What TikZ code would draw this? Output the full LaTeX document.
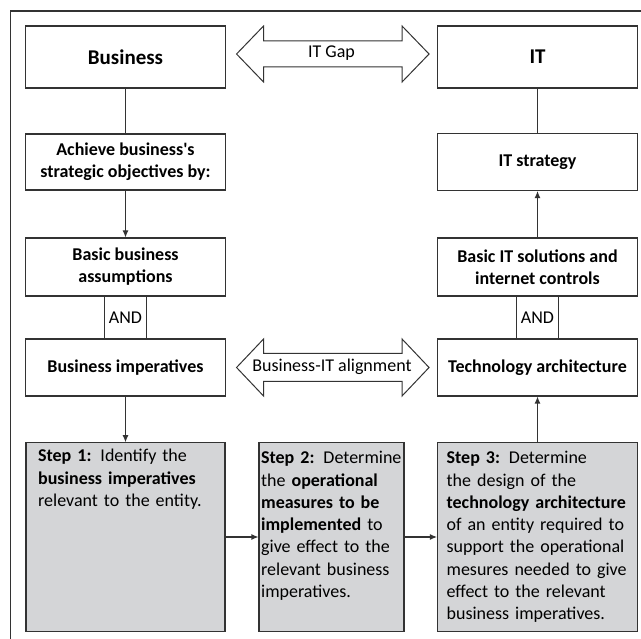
\documentclass[tikz,border=0pt]{standalone}
\usepackage{fontspec}
\setmainfont{Carlito}[Ligatures=TeXOff]
\usepackage{tikz}
\usetikzlibrary{arrows.meta}
\definecolor{linegray}{RGB}{51,51,51}
\definecolor{stepgray}{RGB}{212,213,215}

\begin{document}
\begin{tikzpicture}[x=1pt,y=-1pt]
				\tikzset{box/.style={draw=linegray,line width=1.1pt,minimum width=200pt,inner sep=2pt,align=center,font=\fontsize{18}{22}\selectfont\bfseries}}
				\tikzset{titlebox/.style={box,minimum height=62pt,font=\fontsize{21}{25}\selectfont\bfseries}}
				\tikzset{andbox/.style={draw=linegray,line width=1.1pt,minimum width=42pt,minimum height=43pt,inner sep=0pt,font=\fontsize{18}{22}\selectfont}}
				\tikzset{stepbox/.style={draw=linegray,line width=1.1pt,fill=stepgray,minimum height=188.5pt,inner sep=0pt}}
				\tikzset{steptext/.style={anchor=north west,inner sep=0pt,text width=196pt,align=left,font=\fontsize{18}{22.3}\selectfont}}
				\tikzset{fatarrow/.style={draw=linegray,line width=1pt,fill=white}}
				\tikzset{plainline/.style={draw=linegray,line width=1.1pt}}
				\tikzset{arrowline/.style={plainline,-{Latex[length=7pt,width=6pt]}}}
				\useasboundingbox (0,0) rectangle (641,639);
				\draw[linegray,line width=1.1pt] (10.5,660) -- (10.5,11) -- (660,11);
				% business side
				\node[titlebox] (bus) at (125.5,57) {Business};
				\node[box,minimum height=56pt] (ach) at (125.5,162) {Achieve business's\\strategic objectives by:};
				\node[box,minimum height=58pt] (basic) at (125.5,267) {Basic business\\assumptions};
				\node[andbox] (andbus) at (125.5,317.5) {AND};
				\node[box,minimum height=57pt] (imp) at (125.5,367.5) {Business imperatives};
				% IT side
				\node[titlebox] (it) at (537.5,57) {IT};
				\node[box,minimum height=57pt] (itstr) at (537.5,162) {IT strategy};
				\node[box,minimum height=58pt] (basicit) at (537.5,267) {Basic IT solutions and\\internet controls};
				\node[andbox] (andit) at (537.5,317.5) {AND};
				\node[box,minimum height=57pt] (tech) at (537.5,367.5) {Technology architecture};
				% steps
				\node[stepbox,minimum width=199pt] (step1) at (125.5,537) {};
				\node[stepbox,minimum width=145pt] (step2) at (331.5,537) {};
				\node[stepbox,minimum width=200pt] (step3) at (537.5,537) {};
				\node[steptext] (text1) at ([shift={(12.5,7)}]step1.north west) {\textbf{Step 1:} Identify the\\\textbf{business imperatives}\\relevant to the entity.};
				\node[steptext] (text2) at ([shift={(2.5,9)}]step2.north west) {\textbf{Step 2:} Determine\\the \textbf{operational}\\\textbf{measures to be}\\\textbf{implemented} to\\give effect to the\\relevant business\\imperatives.};
				\node[steptext] (text3) at ([shift={(9.5,9)}]step3.north west) {\textbf{Step 3:} Determine\\the design of the\\\textbf{technology architecture}\\of an entity required to\\support the operational\\mesures needed to give\\effect to the relevant\\business imperatives.};
				% gap arrows
				\draw[fatarrow] ([shift={(10.5,-3)}]bus.east) -- ++(27,-28) -- ++(0,15) -- ++(138.5,0) -- ++(0,-15) -- ++(27,28) -- ++(-27,28) -- ++(0,-15) -- ++(-138.5,0) -- ++(0,15) -- cycle;
				\node[font=\fontsize{18}{22}\selectfont] (gap) at (331.5,53) {IT Gap};
				\draw[fatarrow] ([shift={(10.5,0)}]imp.east) -- ++(27,-28.5) -- ++(0,14.5) -- ++(138.5,0) -- ++(0,-14.5) -- ++(27,28.5) -- ++(-27,28.5) -- ++(0,-14.5) -- ++(-138.5,0) -- ++(0,14.5) -- cycle;
				\node[font=\fontsize{18}{22}\selectfont] (align) at (332,367) {Business-IT alignment};
				% connectors
				\draw[plainline] (bus) -- (ach);
				\draw[arrowline] (ach) -- (basic);
				\draw[arrowline] (imp) -- (step1);
				\draw[arrowline] (step1) -- (step2);
				\draw[arrowline] (step2) -- (step3);
				\draw[arrowline] (step3) -- (tech);
				\draw[arrowline] (basicit) -- (itstr);
				\draw[plainline] (itstr) -- (it);
			\end{tikzpicture}
\end{document}
